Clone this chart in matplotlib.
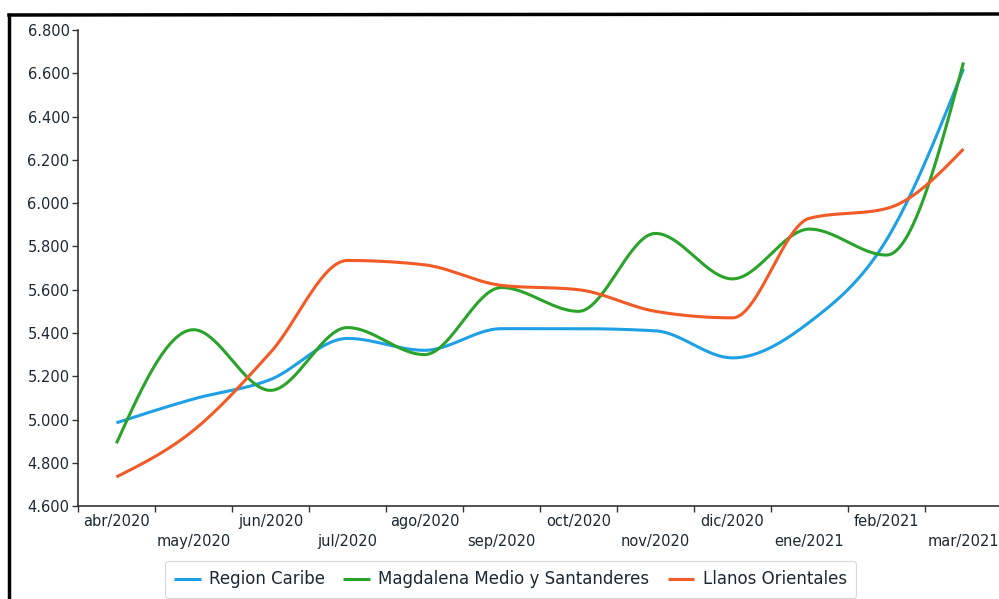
#!/usr/bin/env python3
"""Evolución mensual por región, abr/2020 - mar/2021, con líneas suavizadas."""

import matplotlib

matplotlib.use("Agg")
import matplotlib.pyplot as plt
import numpy as np
from matplotlib.lines import Line2D
from matplotlib.ticker import FuncFormatter


MONTHS = [
    "abr/2020", "may/2020", "jun/2020", "jul/2020", "ago/2020", "sep/2020",
    "oct/2020", "nov/2020", "dic/2020", "ene/2021", "feb/2021", "mar/2021",
]
REGION_CARIBE = [4985, 5095, 5185, 5375, 5320, 5420, 5420, 5410, 5285, 5450, 5830, 6620]
MAGDALENA = [4890, 5415, 5135, 5425, 5300, 5610, 5500, 5860, 5650, 5880, 5760, 6650]
LLANOS = [4735, 4950, 5310, 5735, 5715, 5620, 5600, 5500, 5470, 5930, 5975, 6250]
Y_TICKS = [4600, 4800, 5000, 5200, 5400, 5600, 5800, 6000, 6200, 6400, 6600, 6800]

TEXT = "#1c2833"


def monotone_curve(xs, ys, steps=40):
    """Curva cúbica monótona (tipo monotoneX) que pasa por los puntos."""
    xs = np.asarray(xs, float)
    ys = np.asarray(ys, float)
    h = np.diff(xs)
    s = np.diff(ys) / h
    m = np.zeros_like(ys)
    for i in range(1, len(ys) - 1):
        p = (s[i - 1] * h[i] + s[i] * h[i - 1]) / (h[i - 1] + h[i])
        m[i] = (np.sign(s[i - 1]) + np.sign(s[i])) * min(
            abs(s[i - 1]), abs(s[i]), 0.5 * abs(p)
        )
    m[0] = (3 * s[0] - m[1]) / 2
    m[-1] = (3 * s[-1] - m[-2]) / 2

    out_x, out_y = [], []
    for i in range(len(xs) - 1):
        t = np.linspace(0, 1, steps, endpoint=(i == len(xs) - 2))
        h00 = 2 * t**3 - 3 * t**2 + 1
        h10 = t**3 - 2 * t**2 + t
        h01 = -2 * t**3 + 3 * t**2
        h11 = t**3 - t**2
        out_x.append(xs[i] + t * h[i])
        out_y.append(
            h00 * ys[i] + h10 * h[i] * m[i] + h01 * ys[i + 1] + h11 * h[i] * m[i + 1]
        )
    return np.concatenate(out_x), np.concatenate(out_y)


plt.rcParams["font.family"] = ["DejaVu Sans"]

fig = plt.figure(figsize=(9.99, 5.99), dpi=100)
ax = fig.add_axes([0.078, 0.155, 0.925, 0.795])

x = np.arange(len(MONTHS))
series = [
    ("Region Caribe", REGION_CARIBE, "#1ea0e6"),
    ("Magdalena Medio y Santanderes", MAGDALENA, "#2aa32a"),
    ("Llanos Orientales", LLANOS, "#f25a26"),
]
for label, values, color in series:
    cx, cy = monotone_curve(x, values)
    ax.plot(cx, cy, color=color, lw=2.2, label=label, solid_capstyle="butt")

ax.set_xlim(-0.5, len(MONTHS) - 0.5)
ax.set_ylim(Y_TICKS[0], Y_TICKS[-1])
ax.set_yticks(Y_TICKS)
ax.yaxis.set_major_formatter(
    FuncFormatter(lambda v, _: f"{v / 1000:.3f}")
)

# etiquetas centradas en cada mes, marcas en los bordes de cada categoría
ax.set_xticks(x)
ax.set_xticklabels(MONTHS)
ax.set_xticks(np.arange(-0.5, len(MONTHS)), minor=True)
ax.tick_params(axis="x", which="major", length=0, pad=6, labelsize=10.5, labelcolor=TEXT)
ax.tick_params(axis="x", which="minor", length=4, width=1, color="#333333")
ax.tick_params(axis="y", length=4, width=1, pad=2, labelsize=10.5,
               labelcolor=TEXT, color="#333333")
for tick in ax.xaxis.get_major_ticks()[1::2]:
    tick.set_pad(20)

for side in ("top", "right"):
    ax.spines[side].set_visible(False)
for side in ("left", "bottom"):
    ax.spines[side].set_color("#333333")
    ax.spines[side].set_linewidth(1.2)

leg = fig.legend(
    loc="upper center",
    bbox_to_anchor=(0.511, 0.077),
    ncol=3,
    fontsize=12,
    frameon=True,
    handlelength=1.6,
    handletextpad=0.5,
    columnspacing=1.1,
    borderpad=0.55,
    fancybox=True,
)
leg.get_frame().set_edgecolor("#cccccc")
leg.get_frame().set_linewidth(0.8)
for text in leg.get_texts():
    text.set_color(TEXT)

# marco exterior del recorte
fig.add_artist(Line2D([9 / 999, 9 / 999], [0, 1 - 15 / 599], color="black",
                      lw=2.5, transform=fig.transFigure))
fig.add_artist(Line2D([9 / 999, 1], [1 - 15 / 599, 1 - 14 / 599], color="black",
                      lw=2.5, transform=fig.transFigure))

fig.savefig("out.png", dpi=100, facecolor="white")
